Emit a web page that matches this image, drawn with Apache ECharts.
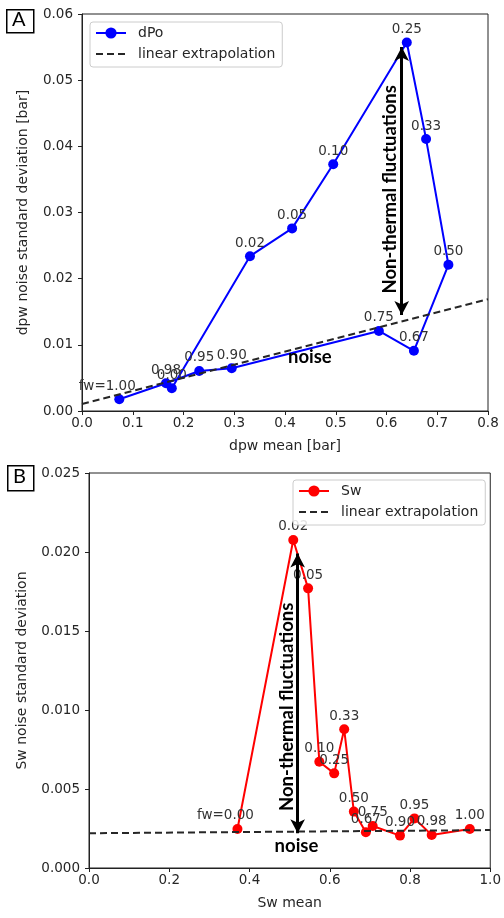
<!DOCTYPE html>
<html>
<head>
<meta charset="utf-8">
<script src="https://cdn.jsdelivr.net/npm/echarts@6/dist/echarts.min.js"></script>
<style>
html,body{margin:0;padding:0;background:#fff;}
#chart{width:504px;height:918px;}
</style>
</head>
<body>
<div id="chart"></div>
<script>
// ---- Panel A data (dPo) ----
const dpwMean = [0.177, 0.331, 0.414, 0.495, 0.640, 0.678, 0.722, 0.654, 0.585, 0.295, 0.231, 0.1655, 0.0735];
const dpwStd  = [0.00343, 0.0234, 0.0276, 0.0373, 0.0557, 0.0411, 0.0221, 0.0091, 0.0121, 0.00645, 0.00605, 0.00419, 0.00177];
const dpwLabels = ['0.00', '0.02', '0.05', '0.10', '0.25', '0.33', '0.50', '0.67', '0.75', '0.90', '0.95', '0.98', 'fw=1.00'];
const dpwFitX = [0, 0.8];
const dpwFitY = [0.00105, 0.0169];
const dpwArrowX = 0.630;
const dpwArrowY = [0.0145, 0.0550];
const dpwTextPos = [0.607, 0.0335];
const dpwNoisePos = [0.449, 0.0081];

// ---- Panel B data (Sw) ----
const swMean = [0.370, 0.509, 0.546, 0.574, 0.611, 0.636, 0.660, 0.690, 0.707, 0.775, 0.811, 0.854, 0.949];
const swStd  = [0.00247, 0.02076, 0.0177, 0.00673, 0.00599, 0.00878, 0.00357, 0.00226, 0.00266, 0.00205, 0.00314, 0.00209, 0.00247];
const swLabels = ['fw=0.00', '0.02', '0.05', '0.10', '0.25', '0.33', '0.50', '0.67', '0.75', '0.90', '0.95', '0.98', '1.00'];
const swFitX = [0, 1.0];
const swFitY = [0.0022, 0.0024];
const swArrowX = 0.520;
const swArrowY = [0.0022, 0.0199];
const swTextPos = [0.493, 0.0102];
const swNoisePos = [0.517, 0.0014];

const FONT = 'DejaVu Sans';
const TXT = '#262626';
const AX = '#222';

function pts(xs, ys, labels) {
  return xs.map((x, i) => {
    const d = { value: [x, ys[i]], lbl: labels[i] };
    if (labels[i].indexOf('fw=') === 0) d.label = { offset: [-12, 0] };
    return d;
  });
}

function xAxisCfg(grid, min, max, interval, dec, name) {
  return {
    type: 'value', gridIndex: grid, min: min, max: max, interval: interval,
    name: name, nameLocation: 'middle', nameGap: 28,
    nameTextStyle: { fontSize: 14, color: TXT, fontFamily: FONT },
    axisLine: { show: true, onZero: false, lineStyle: { color: AX, width: 1 } },
    axisTick: { show: true, length: 4, lineStyle: { color: AX } },
    axisLabel: { margin: 5, fontSize: 13.5, color: TXT, fontFamily: FONT, formatter: v => v.toFixed(dec) },
    splitLine: { show: false }
  };
}
function yAxisCfg(grid, min, max, interval, dec, name, gap) {
  return {
    type: 'value', gridIndex: grid, min: min, max: max, interval: interval,
    name: name, nameLocation: 'middle', nameGap: gap, nameRotate: 90,
    nameTextStyle: { fontSize: 14, color: TXT, fontFamily: FONT },
    axisLine: { show: true, onZero: false, lineStyle: { color: AX, width: 1 } },
    axisTick: { show: true, length: 4, lineStyle: { color: AX } },
    axisLabel: { margin: 9, fontSize: 13.5, color: TXT, fontFamily: FONT, formatter: v => v.toFixed(dec) },
    splitLine: { show: false }
  };
}

function dataSeries(name, xi, xs, ys, labels, color) {
  return {
    type: 'line', name: name, xAxisIndex: xi, yAxisIndex: xi,
    data: pts(xs, ys, labels),
    symbol: 'circle', symbolSize: 10, z: 3,
    itemStyle: { color: color },
    lineStyle: { color: color, width: 2 },
    label: {
      show: true, position: 'top', distance: 1,
      fontSize: 13.5, color: '#333', fontFamily: FONT,
      formatter: p => p.data.lbl
    },
    emphasis: { disabled: true },
    animation: false
  };
}

function fitSeries(xi, fx, fy, arrowX, arrowY, textPos, noisePos) {
  return {
    type: 'line', name: 'linear extrapolation', xAxisIndex: xi, yAxisIndex: xi,
    data: fx.map((x, i) => [x, fy[i]]),
    symbol: 'none', z: 4,
    itemStyle: { color: '#262626' },
    lineStyle: { color: '#262626', width: 2, type: [7, 4] },
    emphasis: { disabled: true },
    animation: false,
    markLine: {
      silent: true, animation: false,
      symbol: ['arrow', 'arrow'], symbolSize: [11, 14],
      lineStyle: { color: '#000', width: 3, type: 'solid' },
      label: { show: false },
      data: [[{ coord: [arrowX, arrowY[0]] }, { coord: [arrowX, arrowY[1]] }]]
    },
    markPoint: {
      silent: true, animation: false,
      symbol: 'circle', symbolSize: 0,
      label: { show: true, position: 'inside', color: '#000', fontWeight: 'bold', fontSize: 18.5, fontFamily: 'Lato' },
      data: [
        { coord: textPos, label: { formatter: 'Non-thermal fluctuations', rotate: 90 } },
        { coord: noisePos, label: { formatter: 'noise' } }
      ]
    }
  };
}

function legendCfg(names, left, top) {
  return {
    data: [
      { name: names[0] },
      { name: names[1], itemStyle: { opacity: 0 } }
    ],
    left: left, top: top, orient: 'vertical',
    itemWidth: 30, itemHeight: 14, itemGap: 7,
    backgroundColor: 'rgba(255,255,255,0.85)',
    borderColor: '#ccc', borderWidth: 1, borderRadius: 3,
    padding: [4, 7, 6, 5],
    selectedMode: false,
    textStyle: { fontSize: 14, color: TXT, fontFamily: FONT, padding: [0, 0, 0, 7] }
  };
}

const chart = echarts.init(document.getElementById('chart'), null, { renderer: 'canvas' });
const option = {
  backgroundColor: '#fff',
  animation: false,
  textStyle: { fontFamily: FONT },
  grid: [
    { left: 82, top: 14, width: 406, height: 397, show: true, borderColor: AX, borderWidth: 1, containLabel: false },
    { left: 89, top: 473, width: 408, height: 395, show: true, borderColor: AX, borderWidth: 1, containLabel: false }
  ],
  xAxis: [
    xAxisCfg(0, 0, 0.8, 0.1, 1, 'dpw mean [bar]'),
    xAxisCfg(1, 0, 1.0, 0.2, 1, 'Sw mean')
  ],
  yAxis: [
    yAxisCfg(0, 0, 0.06, 0.01, 2, 'dpw noise standard deviation [bar]', 52),
    yAxisCfg(1, 0, 0.025, 0.005, 3, 'Sw noise standard deviation', 60)
  ],
  legend: [
    legendCfg(['dPo', 'linear extrapolation'], 90, 22),
    legendCfg(['Sw', 'linear extrapolation'], 293, 480)
  ],
  series: [
    dataSeries('dPo', 0, dpwMean, dpwStd, dpwLabels, '#0000ff'),
    fitSeries(0, dpwFitX, dpwFitY, dpwArrowX, dpwArrowY, dpwTextPos, dpwNoisePos),
    dataSeries('Sw', 1, swMean, swStd, swLabels, '#ff0000'),
    fitSeries(1, swFitX, swFitY, swArrowX, swArrowY, swTextPos, swNoisePos)
  ],
  graphic: [
    { type: 'rect', left: 6, top: 9, shape: { width: 27, height: 23 }, style: { fill: '#fff', stroke: '#000', lineWidth: 1.5 } },
    { type: 'text', left: 12, top: 10, style: { text: 'A', fontSize: 20, fontFamily: 'Lato', fill: '#000' } },
    { type: 'rect', left: 7, top: 465, shape: { width: 26, height: 25 }, style: { fill: '#fff', stroke: '#000', lineWidth: 1.5 } },
    { type: 'text', left: 13, top: 467, style: { text: 'B', fontSize: 20, fontFamily: 'Lato', fill: '#000' } }
  ]
};
chart.setOption(option);
</script>
</body>
</html>
